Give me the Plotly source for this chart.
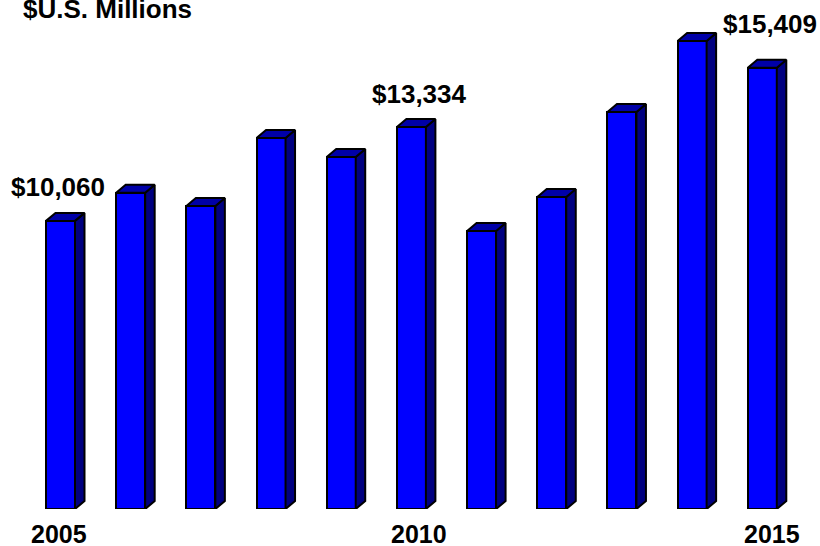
import plotly.graph_objects as go

# ---- data ----
years = [2005, 2006, 2007, 2008, 2009, 2010, 2011, 2012, 2013, 2014, 2015]
values = [10060, 11044, 10580, 12954, 12291, 13334, 9707, 10894, 13862, 16341, 15409]
label_years = [2005, 2010, 2015]
label_texts = ["$10,060", "$13,334", "$15,409"]
tick_years = [2005, 2010, 2015]
tick_texts = ["2005", "2010", "2015"]
title_text = "$U.S. Millions"

# ---- style ----
FRONT = "#0000FF"
SIDE = "#000080"
TOP = "#0000A8"
EDGE = "#000000"
FONT = "Liberation Sans, Arial, sans-serif"

W, H = 820, 546
BASE_PX = 509            # baseline pixel row
PX_PER_YEAR = 70.18
PX_PER_UNIT = 0.02864
FIRST_PX = 60.5          # pixel centre of first bar

x0 = years[0] - FIRST_PX / PX_PER_YEAR
x1 = years[0] + (W - FIRST_PX) / PX_PER_YEAR
ytop = BASE_PX / PX_PER_UNIT

bar_w = 29 / PX_PER_YEAR
dx = 9.5 / PX_PER_YEAR
dy = 8 / PX_PER_UNIT

fig = go.Figure()
fig.add_trace(go.Bar(
    x=years, y=values, width=bar_w,
    marker=dict(color=FRONT, line=dict(color=EDGE, width=2)),
    hoverinfo="skip",
))

for yr, v in zip(years, values):
    xl = yr - bar_w / 2
    xr = yr + bar_w / 2
    # side face
    fig.add_trace(go.Scatter(
        x=[xr, xr + dx, xr + dx, xr, xr],
        y=[0, dy, v + dy, v, 0],
        mode="lines", fill="toself", fillcolor=SIDE,
        line=dict(color=EDGE, width=2), hoverinfo="skip",
    ))
    # top face
    fig.add_trace(go.Scatter(
        x=[xl, xl + dx, xr + dx, xr, xl],
        y=[v, v + dy, v + dy, v, v],
        mode="lines", fill="toself", fillcolor=TOP,
        line=dict(color=EDGE, width=2), hoverinfo="skip",
    ))

annotations = []
label_xshift = [-2.5, 8.5, 8]
label_yshift = [34, 33, 43.7]
for yr, txt, xs, ys in zip(label_years, label_texts, label_xshift, label_yshift):
    v = values[years.index(yr)]
    annotations.append(dict(
        x=yr, y=v, xref="x", yref="y", text="<b>%s</b>" % txt,
        showarrow=False, xanchor="center", yanchor="middle",
        xshift=xs, yshift=ys, borderpad=0,
        font=dict(family=FONT, size=26, color="#000000"),
    ))

tick_xshift = [-2, 7.5, 10]
for yr, txt, xs in zip(tick_years, tick_texts, tick_xshift):
    annotations.append(dict(
        x=yr, y=0, xref="x", yref="paper", text="<b>%s</b>" % txt,
        showarrow=False, xanchor="center", yanchor="middle",
        xshift=xs, yshift=-24.5, borderpad=0,
        font=dict(family=FONT, size=25, color="#000000"),
    ))

annotations.append(dict(
    x=22 / W, y=1, xref="paper", yref="paper", text="<b>%s</b>" % title_text,
    showarrow=False, xanchor="left", yanchor="middle", yshift=-8.5, borderpad=0,
    font=dict(family=FONT, size=26, color="#000000"),
))

fig.update_layout(
    width=W, height=H,
    margin=dict(l=0, r=0, t=0, b=H - BASE_PX),
    paper_bgcolor="white", plot_bgcolor="white",
    showlegend=False, hovermode=False,
    xaxis=dict(range=[x0, x1], visible=False, fixedrange=True),
    yaxis=dict(range=[0, ytop], visible=False, fixedrange=True),
    annotations=annotations,
    bargap=0,
)

fig.write_html("out.html")
